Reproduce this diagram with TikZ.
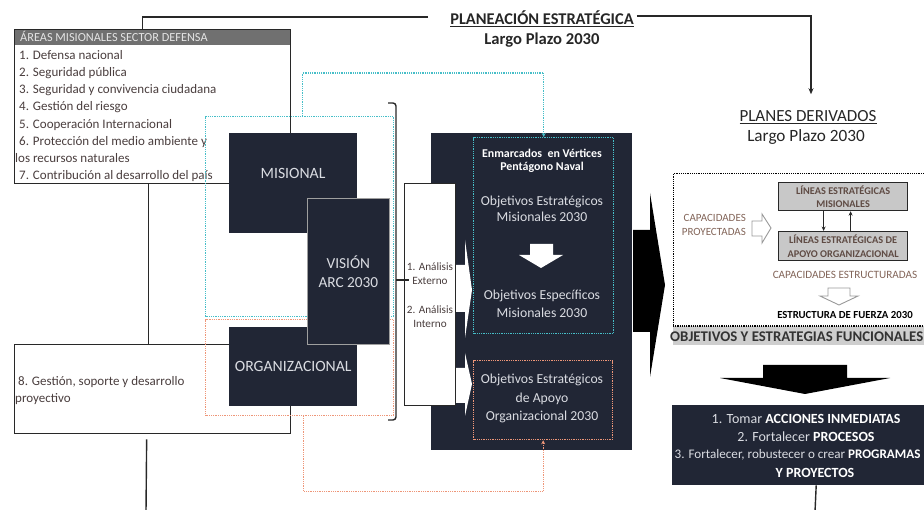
\documentclass[tikz,border=0pt]{standalone}
\usepackage{fontspec}
\setmainfont{Carlito}
\usetikzlibrary{arrows.meta}
\definecolor{navy}{RGB}{33,38,53}
\definecolor{linec}{RGB}{40,40,40}
\definecolor{listtxt}{RGB}{74,62,62}
\definecolor{hdrgray}{RGB}{112,112,112}
\definecolor{hdrtxt}{RGB}{228,228,228}
\definecolor{cyanc}{RGB}{70,190,200}
\definecolor{orangec}{RGB}{238,150,120}
\definecolor{lighttxt}{RGB}{218,220,226}
\definecolor{boxgray}{RGB}{200,200,200}
\definecolor{bandgray}{RGB}{206,206,206}
\definecolor{browntxt}{RGB}{130,100,88}
\definecolor{darkbrown}{RGB}{95,75,68}
\begin{document}
\begin{tikzpicture}[x=1pt,y=-1pt,
  sz/.style 2 args={minimum width=#1pt, minimum height=#2pt},
  conn/.style={draw=linec, line width=1.4pt},
  darkbox/.style={fill=navy, draw=none, inner sep=0pt, anchor=north west},
  plainbox/.style={fill=white, draw=linec, line width=1.3pt, inner sep=0pt, anchor=north west},
  cyandot/.style={draw=cyanc, line width=1.3pt, dash pattern=on 1pt off 0.8pt},
  orangedot/.style={draw=orangec, line width=1.3pt, dash pattern=on 1pt off 0.8pt},
  blackdot/.style={draw=black, line width=1.4pt, dash pattern=on 1.2pt off 1pt},
  listline/.style={anchor=base west, inner sep=0pt, text=listtxt, font=\fontsize{13}{15}\selectfont},
  lt/.style={text=lighttxt, inner sep=0pt, align=center},
  accline/.style={text=lighttxt, inner sep=0pt, font=\fontsize{14}{16}\selectfont},
  smallarr/.style={-{Stealth[length=4.5pt,width=4pt]}},
]
\useasboundingbox (0,0) rectangle (924,510);

% ---------- Areas box ----------
\node[plainbox, sz={276}{154}] (areas) at (14,29) {};
\node[fill=hdrgray, draw=none, inner sep=0pt, anchor=north west, sz={275}{15}] (hdr) at (14.7,29.7) {};
\node[anchor=base west, inner sep=0pt, text=hdrtxt, font=\fontsize{12.3}{14}\selectfont] (hdrtxt) at (20,41.3) {ÁREAS MISIONALES SECTOR DEFENSA};
\node[listline] (a1) at (19,59.5) {1. Defensa nacional};
\node[listline] (a2) at (19,76.5) {2. Seguridad pública};
\node[listline] (a3) at (19,93.5) {3. Seguridad y convivencia ciudadana};
\node[listline] (a4) at (19,110.5) {4. Gestión del riesgo};
\node[listline] (a5) at (19,128.5) {5. Cooperación Internacional};
\node[listline] (a6) at (19,145.5) {6. Protección del medio ambiente y};
\node[listline] (a6b) at (15,162.5) {los recursos naturales};
\node[listline] (a7) at (19,179.5) {7. Contribución al desarrollo del país};

% ---------- Gestion box ----------
\node[plainbox, sz={276}{89}] (gest) at (14,344) {};
\node[listline] (g1) at (18,385.5) {8. Gestión, soporte y desarrollo};
\node[listline] (g2) at (15,402.5) {proyectivo};

% connectors left
\draw[conn] ([xshift=-4pt]areas.south) -- ([xshift=-4pt]gest.north);
\coordinate (gbot) at (146,512);
\draw[conn] ([xshift=-6pt,yshift=-5pt]gest.south) -- (gbot);

% ---------- Titles ----------
\node[inner sep=0pt, font=\fontsize{16.4}{18}\bfseries\selectfont, text=black!85] (plant) at (542,19) {\underline{PLANEACIÓN ESTRATÉGICA}};
\node[inner sep=0pt, font=\fontsize{16.6}{18}\bfseries\selectfont, text=black!85] (planl) at (542,40) {Largo Plazo 2030};
\node[inner sep=0pt, font=\fontsize{17}{19}\selectfont, text=black!85] (pder) at (808,117) {\underline{PLANES DERIVADOS}};
\node[inner sep=0pt, font=\fontsize{17.2}{19}\selectfont, text=black!85] (pderl) at (806,137) {Largo Plazo 2030};

\draw[conn] ([xshift=-22pt,yshift=2pt]plant.west) -| ([xshift=-10pt]areas.north);
\draw[conn, -{Stealth[length=6pt,width=5pt]}] ([xshift=3pt,yshift=3pt]plant.east) -| ([xshift=3pt,yshift=16pt]pder.north);

% ---------- dotted rectangles ----------
\node[cyandot, inner sep=0pt, anchor=north west, sz={188}{200}] (cyr) at (205,116) {};
\node[orangedot, inner sep=0pt, anchor=north west, sz={188}{96}] (orr) at (205,319) {};

% ---------- dark boxes ----------
\node[darkbox, sz={128}{100}] (mis) at (229,133) {};
\node[lt, font=\fontsize{15.7}{18}\selectfont] (mistxt) at (293,173) {MISIONAL};
\node[darkbox, sz={128}{79}] (org) at (229,327) {};
\node[lt, font=\fontsize{15.7}{18}\selectfont] (orgtxt) at (org.center) {ORGANIZACIONAL};
\node[darkbox, draw=gray!75, line width=0.8pt, sz={82}{146}] (vis) at (307,198) {};
\node[lt, font=\fontsize{15.3}{19}\selectfont] (vistxt) at (vis.center) {VISIÓN\\ARC 2030};

% bracket
\draw[conn, rounded corners=3pt] (388,103) -- (396,103) -- (396,420) -- (388,420);
\coordinate (brm) at (396,280);

% ---------- central dark box ----------
\node[darkbox, sz={201}{317}] (cen) at (431,133) {};
\node[plainbox, sz={51}{222}] (ana) at (404,183) {};
\draw[conn] (brm) -- ([xshift=5pt]ana.west |- brm);
\node[inner sep=0pt, align=center, text=listtxt, font=\fontsize{11.2}{14}\selectfont] (an1) at (430,274) {1. Análisis\\Externo};
\node[inner sep=0pt, align=center, text=listtxt, font=\fontsize{11.2}{13.5}\selectfont] (an2) at (430,316.5) {2. Análisis\\Interno};

% white arrows
\fill[white] (456,265) -- (465,265) -- (465,240) -- (472,290) -- (465,338) -- (465,312) -- (456,312) -- cycle;
\fill[white] (456,368) -- (465,368) -- (465,353) -- (472,384) -- (465,416) -- (465,403) -- (456,403) -- cycle;

\node[cyandot, inner sep=0pt, anchor=north west, sz={140}{196}] (cyb) at (473,137) {};
\node[orangedot, inner sep=0pt, anchor=north west, sz={139}{79}] (orb) at (473,360) {};

\node[inner sep=0pt, align=center, text=white, font=\fontsize{11.9}{12.5}\bfseries\selectfont] (enm) at (542,161) {Enmarcados \ en Vértices\\Pentágono Naval};
\node[lt, font=\fontsize{13.7}{16.5}\selectfont] (oem) at (542,209) {Objetivos Estratégicos\\Misionales 2030};
\fill[white] (530,244) -- (553,244) -- (553,255) -- (563,255) -- (541,268) -- (519,255) -- (530,255) -- cycle;
\node[lt, font=\fontsize{13.7}{17.5}\selectfont] (oesp) at (542,304) {Objetivos Específicos\\Misionales 2030};
\node[lt, font=\fontsize{13.7}{18.5}\selectfont] (oeap) at (542,398.5) {Objetivos Estratégicos\\de Apoyo\\Organizacional 2030};

% cyan / orange connectors
\draw[cyandot, -{Stealth[length=4pt,width=4pt]}] ([xshift=3pt]cyr.north) -- ++(0,-43) -| (cyb.north);
\draw[orangedot, -{Stealth[length=4pt,width=4pt]}] ([xshift=4pt]orr.south) -- ++(0,75) -| (orb.south);

% big black right arrow
\fill[black] (633,230) -- (650,230) -- (650,193) -- (665,285) -- (650,377) -- (650,332) -- (633,332) -- cycle;

% ---------- right dotted box ----------
\node[blackdot, inner sep=0pt, anchor=north west, sz={262}{153}] (rd) at (673,173) {};
\node[fill=bandgray, draw=none, inner sep=0pt, anchor=north west, sz={262}{19}] (band) at (673,326) {};
\draw[blackdot] (673,326) -- (930,326);
\node[anchor=west, inner sep=0pt, text=black!80, font=\fontsize{14.8}{16}\bfseries\selectfont] (bandtxt) at (670,337) {OBJETIVOS Y ESTRATEGIAS FUNCIONALES};

\node[fill=boxgray, draw=linec, line width=1.2pt, inner sep=0pt, anchor=north west, sz={129}{28}, align=center, text=darkbrown, font=\fontsize{10.3}{13}\bfseries\selectfont] (lm) at (778,182) {LÍNEAS ESTRATÉGICAS\\MISIONALES};
\node[fill=boxgray, draw=linec, line width=1.2pt, inner sep=0pt, anchor=north west, sz={129}{29}, align=center, text=darkbrown, font=\fontsize{10.3}{14}\bfseries\selectfont] (la) at (778,231) {LÍNEAS ESTRATÉGICAS DE\\APOYO ORGANIZACIONAL};
\draw[conn, line width=1.1pt, smallarr] ([xshift=-19.5pt]lm.south) -- ([xshift=-19.5pt]la.north);
\draw[conn, line width=1.1pt, smallarr] ([xshift=7.5pt]la.north) -- ([xshift=7.5pt]lm.south);

\node[inner sep=0pt, align=right, text=browntxt, font=\fontsize{11}{14}\selectfont, anchor=east] (cproy) at (746,225) {CAPACIDADES\\PROYECTADAS};
\filldraw[fill=white, draw=gray!80, line width=0.9pt] (752,221) -- (762,221) -- (762,214) -- (771,228) -- (762,243) -- (762,236) -- (752,236) -- cycle;
\node[inner sep=0pt, text=browntxt, font=\fontsize{11.2}{13}\selectfont] (cest) at (845,275) {CAPACIDADES ESTRUCTURADAS};
\filldraw[fill=white, draw=gray!80, line width=0.9pt] (828,288) -- (850,288) -- (850,296) -- (858,296) -- (839,305) -- (820,296) -- (828,296) -- cycle;
\node[inner sep=0pt, text=black, font=\fontsize{10.8}{12}\bfseries\selectfont] (efz) at (845,315) {ESTRUCTURA DE FUERZA 2030};

% big black down arrow
\fill[black] (763,365) -- (847,365) -- (847,378) -- (890,378) -- (805,394) -- (720,378) -- (763,378) -- cycle;

% ---------- actions box ----------
\node[darkbox, sz={262}{80}] (acc) at (672,405) {};
\node[accline] (ac1) at (806,419) {1. Tomar \textbf{\color{white}ACCIONES INMEDIATAS}};
\node[accline] (ac2) at (806,437) {2. Fortalecer \textbf{\color{white}PROCESOS}};
\node[accline, anchor=west, font=\fontsize{13.1}{16}\selectfont] (ac3) at (674.5,455) {3. Fortalecer, robustecer o crear \textbf{\color{white}PROGRAMAS}};
\node[accline] (ac4) at (815,472.5) {\textbf{\color{white}Y PROYECTOS}};
\coordinate (accbot) at (815,512);
\draw[conn] ([xshift=13pt]acc.south) -- (accbot);
\end{tikzpicture}
\end{document}
